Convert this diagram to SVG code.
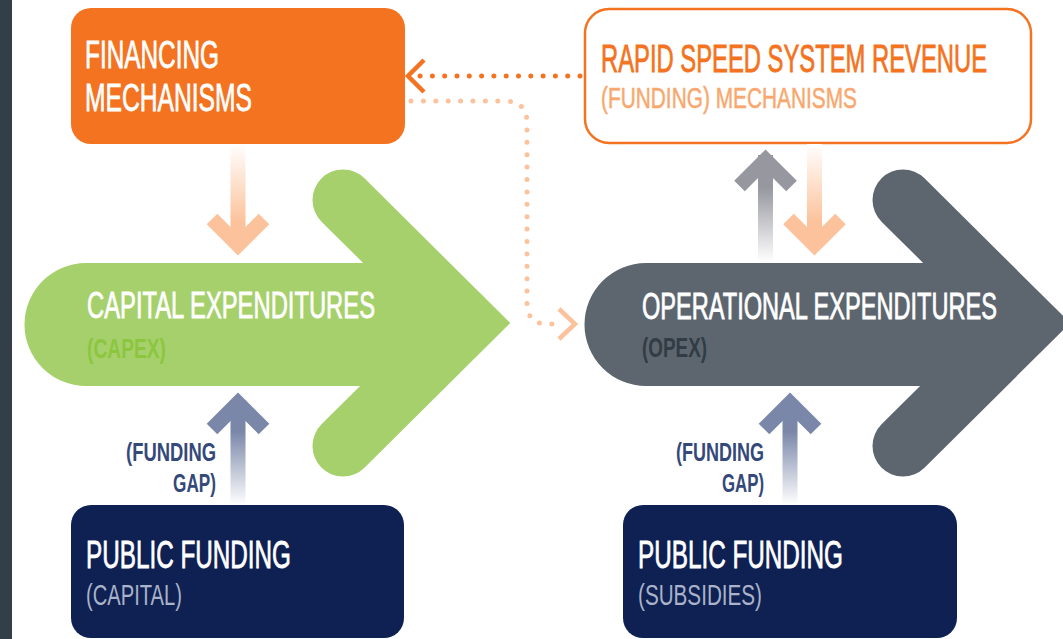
<svg xmlns="http://www.w3.org/2000/svg" width="1063" height="639" viewBox="0 0 1063 639">
<style>
text{font-family:"Liberation Sans","Arial",sans-serif;font-weight:normal}
.big{font-size:38px;fill:#ffffff;stroke:#ffffff;stroke-width:0.8}
.mid{font-size:36px;fill:#ffffff;stroke:#ffffff;stroke-width:0.8}
.sub{font-size:29px}
.gap{font-size:26px;fill:#34497a;font-weight:bold}
.dot{fill:none;stroke-linecap:round;stroke-width:5}
.chev{fill:none;stroke-linejoin:miter}
</style>
<defs>
<linearGradient id="gOr" x1="0" y1="0" x2="0" y2="1">
<stop offset="0" stop-color="#ffffff"/>
<stop offset="0.75" stop-color="#fcc29b"/>
<stop offset="1" stop-color="#fcc29b"/>
</linearGradient>
<linearGradient id="gBl" x1="0" y1="0" x2="0" y2="1">
<stop offset="0" stop-color="#7a87a9"/>
<stop offset="0.3" stop-color="#7a87a9"/>
<stop offset="1" stop-color="#ffffff"/>
</linearGradient>
<linearGradient id="gGr" x1="0" y1="0" x2="0" y2="1">
<stop offset="0" stop-color="#96979f"/>
<stop offset="0.3" stop-color="#96979f"/>
<stop offset="1" stop-color="#ffffff"/>
</linearGradient>
</defs>
<rect x="0" y="0" width="1063" height="639" fill="#ffffff"/>
<rect x="0" y="0" width="12" height="639" fill="#323e48"/>

<g id="capex">
<path d="M86,263 H440 V386 H86 A61.5,61.5 0 0 1 86,263 Z" fill="#a6d06b"/>
<path d="M343,200 L467,323 L343,446" fill="none" stroke="#a6d06b" stroke-width="61" stroke-linecap="round" stroke-linejoin="miter"/>
<text class="mid" x="87" y="318" textLength="288" lengthAdjust="spacingAndGlyphs">CAPITAL EXPENDITURES</text>
<text class="sub" x="87" y="358" fill="#8cc63f" textLength="79" lengthAdjust="spacingAndGlyphs" style="font-size:27px;font-weight:bold">(CAPEX)</text>
</g>

<g id="opex">
<path d="M646,263 H1000 V386 H646 A61.5,61.5 0 0 1 646,263 Z" fill="#5d666f"/>
<path d="M903,200 L1027,323 L903,446" fill="none" stroke="#5d666f" stroke-width="61" stroke-linecap="round" stroke-linejoin="miter"/>
<text class="mid" x="642" y="319" textLength="355" lengthAdjust="spacingAndGlyphs">OPERATIONAL EXPENDITURES</text>
<text class="sub" x="642" y="357" fill="#313c45" textLength="65" lengthAdjust="spacingAndGlyphs" style="font-size:27px;font-weight:bold">(OPEX)</text>
</g>

<g id="financing">
<rect x="71" y="8" width="334" height="136" rx="20" fill="#f37321"/>
<text class="big" x="85" y="68" textLength="134" lengthAdjust="spacingAndGlyphs" style="font-size:39px">FINANCING</text>
<text class="big" x="85" y="111" textLength="167" lengthAdjust="spacingAndGlyphs" style="font-size:39px">MECHANISMS</text>
</g>

<g id="revenue">
<rect x="585" y="9" width="446" height="134" rx="24" fill="#ffffff" stroke="#f37321" stroke-width="2.5"/>
<text x="601" y="72" fill="#f37321" stroke="#f37321" stroke-width="0.8" textLength="386" lengthAdjust="spacingAndGlyphs" style="font-size:39px">RAPID SPEED SYSTEM REVENUE</text>
<text class="sub" x="601" y="108" fill="#f8a86e" stroke="#f8a86e" stroke-width="0.5" textLength="256" lengthAdjust="spacingAndGlyphs">(FUNDING) MECHANISMS</text>
</g>

<g id="public-capital">
<rect x="71" y="505" width="333" height="133" rx="20" fill="#0e2152"/>
<text class="big" x="86" y="568" textLength="205" lengthAdjust="spacingAndGlyphs">PUBLIC FUNDING</text>
<text class="sub" x="86" y="605" fill="#aab3c9" textLength="96" lengthAdjust="spacingAndGlyphs">(CAPITAL)</text>
</g>

<g id="public-subsidies">
<rect x="623" y="505" width="334" height="133" rx="20" fill="#0e2152"/>
<text class="big" x="638" y="568" textLength="205" lengthAdjust="spacingAndGlyphs">PUBLIC FUNDING</text>
<text class="sub" x="638" y="605" fill="#aab3c9" textLength="124" lengthAdjust="spacingAndGlyphs">(SUBSIDIES)</text>
</g>

<g id="gap-labels">
<text class="gap" x="216" y="461" text-anchor="end" textLength="90" lengthAdjust="spacingAndGlyphs">(FUNDING</text>
<text class="gap" x="216" y="492" text-anchor="end" textLength="43" lengthAdjust="spacingAndGlyphs">GAP)</text>
<text class="gap" x="764" y="461" text-anchor="end" textLength="88" lengthAdjust="spacingAndGlyphs">(FUNDING</text>
<text class="gap" x="764" y="492" text-anchor="end" textLength="42" lengthAdjust="spacingAndGlyphs">GAP)</text>
</g>

<g id="connectors">
<rect x="230.5" y="144" width="15" height="104" fill="url(#gOr)"/>
<polyline class="chev" points="212,219 238,245 264,219" stroke="#fcc29b" stroke-width="15"/>
<rect x="230.5" y="400" width="15" height="105" fill="url(#gBl)"/>
<polyline class="chev" points="212,429 238,403 264,429" stroke="#7a87a9" stroke-width="15"/>
<rect x="782.5" y="400" width="15" height="105" fill="url(#gBl)"/>
<polyline class="chev" points="764,429 790,403 816,429" stroke="#7a87a9" stroke-width="15"/>
<rect x="758" y="155" width="15" height="107" fill="url(#gGr)"/>
<polyline class="chev" points="739.5,186 765.5,160 791.5,186" stroke="#96979f" stroke-width="15"/>
<rect x="807" y="144" width="15" height="104" fill="url(#gOr)"/>
<polyline class="chev" points="788.5,219 814.5,245 840.5,219" stroke="#fcc29b" stroke-width="15"/>
<path class="dot" d="M580,76 H420" stroke="#f37321" stroke-dasharray="0 12.3"/>
<polyline class="chev" points="424,60 408,76 424,92" stroke="#f37321" stroke-width="4.5"/>
<path class="dot" d="M411,101 H505 Q527,101 527,123 V303 Q527,324 548,324 H562" stroke="#fcc29b" stroke-dasharray="0 12.4"/>
<polyline class="chev" points="559,309 575,324 559,339" stroke="#fcc29b" stroke-width="4.5"/>
</g>
</svg>
